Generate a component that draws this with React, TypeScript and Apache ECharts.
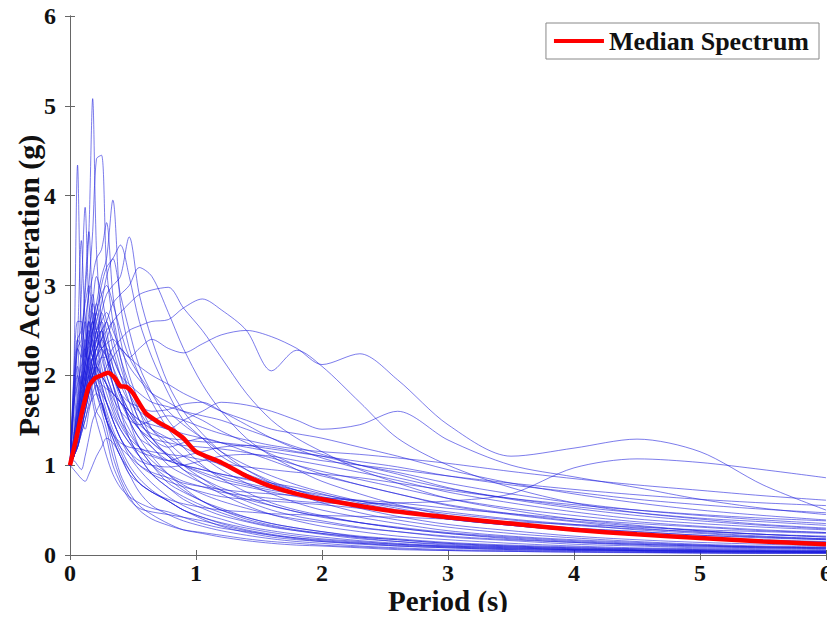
import React, { useEffect, useRef } from "react";
import * as echarts from "echarts";

const periods = [0, 0.03, 0.06, 0.09, 0.12, 0.15, 0.18, 0.21, 0.25, 0.29, 0.34, 0.4, 0.47, 0.55, 0.65, 0.78, 0.9, 1.05, 1.2, 1.4, 1.6, 1.8, 2.0, 2.3, 2.6, 3.0, 3.5, 4.0, 4.5, 5.0, 5.5, 6.0];

const highPeaks = [
  [1.0,1.3,1.8,2.3,2.9,3.6,5.08,3.4,2.6,2.3,2.0,1.8,1.5,1.3,1.1,0.9,0.75,0.6,0.5,0.4,0.33,0.28,0.24,0.19,0.15,0.12,0.09,0.07,0.06,0.05,0.04,0.035],
  [1.0,2.0,4.34,2.5,2.2,2.6,2.3,1.9,1.7,1.5,1.3,1.1,0.95,0.8,0.7,0.6,0.5,0.42,0.36,0.3,0.25,0.21,0.18,0.15,0.12,0.1,0.08,0.06,0.05,0.04,0.035,0.03],
  [1.0,1.2,1.5,1.9,2.4,3.0,3.6,4.41,4.45,3.2,2.6,2.2,1.9,1.6,1.3,1.1,0.95,0.8,0.68,0.55,0.45,0.38,0.32,0.26,0.21,0.17,0.13,0.1,0.08,0.07,0.06,0.05],
  [1.0,1.4,2.0,2.9,3.87,2.8,2.5,2.7,2.3,2.0,1.8,1.5,1.3,1.1,0.9,0.75,0.65,0.55,0.47,0.38,0.32,0.27,0.23,0.18,0.15,0.11,0.09,0.07,0.05,0.045,0.04,0.035],
  [1.0,1.1,1.4,1.7,2.0,2.3,2.6,2.8,3.1,3.3,3.95,2.8,2.3,2.0,1.7,1.4,1.2,1.0,0.85,0.7,0.58,0.5,0.44,0.36,0.3,0.24,0.18,0.14,0.11,0.09,0.08,0.07],
  [1.0,1.3,1.7,2.2,2.6,2.9,3.1,3.3,3.4,3.7,2.9,2.4,2.0,1.7,1.4,1.2,1.0,0.85,0.72,0.6,0.5,0.43,0.38,0.31,0.26,0.2,0.16,0.12,0.1,0.08,0.07,0.06],
  [1.0,1.2,1.5,1.8,2.1,2.4,2.6,2.5,2.7,2.9,3.0,3.1,3.54,2.9,2.4,1.9,1.6,1.35,1.15,0.95,0.8,0.68,0.58,0.47,0.39,0.31,0.24,0.19,0.15,0.12,0.1,0.09],
  [1.0,1.1,1.3,1.6,1.9,2.2,2.5,2.7,3.0,3.2,3.3,3.45,3.1,2.6,2.2,1.8,1.5,1.3,1.1,0.95,0.82,0.72,0.63,0.52,0.43,0.34,0.27,0.21,0.17,0.14,0.12,0.1],
  [1.0,1.1,1.3,1.5,1.8,2.0,2.2,2.4,2.5,2.6,2.8,2.9,3.0,3.2,3.1,2.7,2.3,1.9,1.6,1.3,1.1,0.95,0.82,0.68,0.56,0.44,0.35,0.28,0.22,0.18,0.15,0.13],
  [1.0,1.1,1.3,1.5,1.7,1.9,2.1,2.3,2.4,2.5,2.6,2.7,2.8,2.9,2.95,2.98,2.75,2.5,2.2,1.8,1.5,1.3,1.15,0.95,0.8,0.63,0.5,0.4,0.33,0.27,0.23,0.2],
  [1.0,1.1,1.2,1.4,1.6,1.8,2.0,2.1,2.2,2.2,2.3,2.4,2.5,2.55,2.6,2.62,2.75,2.85,2.73,2.5,2.05,2.28,2.1,1.7,1.3,1.0,0.75,0.58,0.47,0.4,0.34,0.3],
  [1.0,1.1,1.3,1.5,1.7,1.9,2.0,2.1,2.0,2.1,2.2,2.3,2.2,2.3,2.4,2.3,2.25,2.35,2.45,2.5,2.43,2.3,2.12,2.24,1.95,1.45,1.1,1.19,1.29,1.15,0.78,0.5],
  [1.0,1.8,2.3,2.4,3.0,3.6,2.7,2.3,2.5,2.2,1.9,1.6,1.4,1.2,1.0,0.85,0.72,0.6,0.52,0.42,0.35,0.3,0.26,0.2,0.17,0.13,0.1,0.08,0.06,0.05,0.045,0.04],
  [1.0,1.6,2.4,3.5,2.6,2.3,2.5,2.1,1.9,1.7,1.5,1.3,1.1,0.95,0.8,0.65,0.55,0.46,0.4,0.32,0.27,0.23,0.2,0.16,0.13,0.1,0.08,0.06,0.05,0.04,0.035,0.03],
];

const moderate = [
  [1.0,1.8,2.4,2.5,2.8,3.0,2.6,2.4,2.7,2.5,2.1,1.8,1.5,1.2,1.0,0.8,0.7,0.6,0.5,0.42,0.35,0.3,0.26,0.21,0.18,0.14,0.11,0.09,0.07,0.06,0.05,0.045],
  [1.0,1.2,1.5,1.9,2.2,2.5,2.8,3.1,2.9,2.6,2.4,2.1,1.8,1.5,1.3,1.1,0.95,0.85,0.75,0.65,0.55,0.48,0.43,0.36,0.3,0.24,0.19,0.15,0.12,0.1,0.08,0.07],
  [1.0,2.0,2.6,2.6,2.3,2.7,2.9,2.5,2.2,2.0,1.8,1.7,1.5,1.3,1.2,1.0,0.9,0.8,0.72,0.62,0.55,0.48,0.42,0.36,0.31,0.25,0.2,0.16,0.13,0.11,0.09,0.08],
  [1.0,1.1,1.3,1.6,1.9,2.2,2.5,2.7,2.9,3.0,2.8,2.5,2.2,2.0,1.8,1.6,1.45,1.3,1.15,1.0,0.88,0.78,0.7,0.6,0.52,0.42,0.35,0.28,0.23,0.19,0.16,0.14],
  [1.0,1.7,2.3,2.2,2.6,2.4,2.2,2.5,2.3,2.1,1.9,1.7,1.6,1.5,1.4,1.3,1.2,1.1,1.0,0.9,0.8,0.72,0.65,0.56,0.48,0.4,0.33,0.27,0.22,0.19,0.16,0.14],
  [1.0,1.2,1.6,2.0,2.3,2.1,1.9,2.2,2.4,2.6,2.3,2.0,1.7,1.4,1.2,1.05,1.0,0.95,0.9,0.85,0.8,0.75,0.68,0.58,0.5,0.4,0.33,0.27,0.23,0.2,0.17,0.15],
  [1.0,1.3,1.6,1.9,2.1,2.4,2.7,2.5,2.3,2.4,2.6,2.2,1.8,1.5,1.3,1.2,1.25,1.3,1.25,1.15,1.05,0.95,0.88,0.78,0.68,0.55,0.45,0.37,0.3,0.25,0.21,0.18],
  [1.0,1.15,1.4,1.7,2.0,2.2,2.3,2.5,2.6,2.4,2.2,2.0,1.9,1.8,1.7,1.65,1.6,1.55,1.5,1.4,1.3,1.2,1.12,1.0,0.9,0.75,0.62,0.52,0.44,0.38,0.33,0.29],
  [1.0,1.2,1.4,1.7,1.9,2.1,2.2,2.3,2.4,2.3,2.1,1.9,1.7,1.6,1.5,1.4,1.5,1.6,1.7,1.67,1.6,1.5,1.4,1.45,1.6,1.28,1.0,0.87,0.75,0.62,0.52,0.45],
  [1.0,1.1,1.3,1.5,1.7,1.9,2.1,2.2,2.3,2.35,2.4,2.3,2.2,2.1,2.0,1.9,1.8,1.7,1.6,1.5,1.4,1.35,1.3,1.2,1.1,0.95,0.8,0.68,0.58,0.5,0.44,0.39],
  [1.0,1.9,2.4,2.3,2.0,1.8,2.1,2.3,2.0,1.8,1.6,1.4,1.25,1.15,1.1,1.05,1.1,1.15,1.2,1.22,1.2,1.15,1.1,1.0,0.92,0.8,0.68,0.58,0.5,0.44,0.39,0.35],
  [1.0,1.2,1.5,1.8,2.2,2.6,2.8,2.6,2.4,2.2,2.0,1.8,1.6,1.4,1.25,1.1,1.0,0.92,0.85,0.78,0.72,0.68,0.64,0.6,0.55,0.48,0.4,0.34,0.28,0.24,0.2,0.17],
  [1.0,1.3,1.7,2.0,1.8,2.1,2.4,2.2,2.0,1.9,1.7,1.5,1.35,1.2,1.05,0.9,0.78,0.68,0.6,0.52,0.45,0.4,0.36,0.3,0.26,0.21,0.17,0.14,0.12,0.1,0.09,0.08],
  [1.0,1.1,1.25,1.45,1.7,1.95,2.2,2.4,2.6,2.7,2.5,2.3,2.1,1.95,1.8,1.7,1.6,1.5,1.38,1.25,1.12,1.0,0.9,0.78,0.68,0.56,0.46,0.38,0.32,0.27,0.23,0.2],
  [1.0,1.2,1.5,1.9,2.3,2.6,2.4,2.1,1.9,1.7,1.5,1.3,1.15,1.0,0.9,0.82,0.76,0.7,0.65,0.62,0.6,0.58,0.56,0.52,0.48,0.42,0.36,0.3,0.26,0.22,0.19,0.17],
  [1.0,1.3,1.6,2.0,2.4,2.2,2.5,2.8,2.5,2.2,1.9,1.6,1.3,1.1,0.9,0.75,0.62,0.52,0.44,0.37,0.31,0.27,0.24,0.2,0.17,0.13,0.1,0.08,0.07,0.06,0.05,0.045],
  [1.0,1.1,1.3,1.6,1.9,2.2,2.4,2.6,2.8,3.1,3.3,2.9,2.5,2.1,1.8,1.5,1.3,1.1,0.95,0.8,0.68,0.58,0.5,0.42,0.35,0.27,0.21,0.17,0.14,0.11,0.09,0.08],
];

const lowRecords = [
  [1.0,0.95,0.9,0.85,0.82,0.9,1.0,1.1,1.2,1.3,1.25,1.1,0.9,0.7,0.55,0.45,0.38,0.32,0.27,0.22,0.18,0.15,0.13,0.1,0.08,0.06,0.05,0.04,0.03,0.025,0.02,0.02],
  [1.0,1.05,1.0,0.95,1.1,1.3,1.5,1.6,1.7,1.5,1.2,0.9,0.7,0.55,0.45,0.35,0.28,0.24,0.2,0.16,0.13,0.11,0.1,0.08,0.06,0.05,0.04,0.03,0.025,0.02,0.02,0.02],
  [1.0,1.1,1.2,1.4,1.6,1.8,2.0,1.8,1.6,1.4,1.1,0.85,0.65,0.5,0.4,0.33,0.28,0.25,0.22,0.18,0.15,0.13,0.11,0.09,0.07,0.05,0.04,0.035,0.03,0.025,0.02,0.02],
  [1.0,1.2,1.5,1.7,1.9,2.0,1.8,1.6,1.5,1.3,1.0,0.8,0.62,0.52,0.48,0.45,0.42,0.38,0.33,0.27,0.22,0.18,0.15,0.12,0.1,0.08,0.06,0.05,0.04,0.035,0.03,0.03],
  [1.0,1.1,1.3,1.5,1.4,1.6,1.8,1.9,1.7,1.5,1.3,1.1,0.9,0.8,0.7,0.6,0.5,0.42,0.35,0.28,0.23,0.19,0.16,0.13,0.1,0.08,0.06,0.05,0.04,0.03,0.03,0.025],
  [1.0,1.7,1.9,2.1,2.3,2.0,1.7,1.5,1.3,1.1,0.9,0.75,0.65,0.58,0.52,0.48,0.42,0.35,0.3,0.26,0.22,0.19,0.17,0.14,0.12,0.09,0.07,0.06,0.05,0.04,0.035,0.03],
  [1.0,1.2,1.4,1.6,1.8,2.0,2.2,2.0,1.8,1.6,1.4,1.2,1.0,0.85,0.72,0.6,0.5,0.4,0.32,0.25,0.2,0.17,0.15,0.13,0.11,0.09,0.07,0.06,0.05,0.045,0.04,0.035],
];

const longPeriod = [
  [1.0,1.1,1.3,1.6,1.9,2.1,2.0,1.9,1.8,1.7,1.55,1.4,1.25,1.1,1.0,0.9,0.82,0.76,0.7,0.66,0.63,0.6,0.58,0.57,0.58,0.6,0.68,0.97,1.07,1.03,0.95,0.86],
  [1.0,1.2,1.5,1.8,2.1,2.3,2.2,2.0,1.9,1.85,1.8,1.7,1.6,1.5,1.45,1.4,1.35,1.3,1.25,1.2,1.15,1.1,1.05,1.0,0.95,0.88,0.8,0.73,0.67,0.62,0.58,0.55],
  [1.0,1.1,1.2,1.4,1.6,1.8,2.0,2.1,2.0,1.9,1.75,1.6,1.5,1.45,1.5,1.55,1.5,1.42,1.35,1.28,1.22,1.18,1.15,1.12,1.08,1.02,0.93,0.85,0.78,0.72,0.66,0.61],
  [1.0,1.15,1.35,1.6,1.85,2.1,2.3,2.4,2.3,2.2,2.0,1.8,1.6,1.45,1.35,1.3,1.28,1.26,1.25,1.22,1.18,1.14,1.1,1.04,0.98,0.88,0.78,0.7,0.62,0.56,0.51,0.47],
  [1.0,1.2,1.4,1.7,2.0,2.2,2.1,1.9,1.7,1.5,1.35,1.25,1.2,1.18,1.15,1.12,1.1,1.06,1.02,0.98,0.95,0.92,0.9,0.86,0.8,0.72,0.63,0.56,0.5,0.45,0.41,0.38],
  [1.0,1.1,1.3,1.5,1.7,1.9,2.1,2.0,1.85,1.7,1.5,1.3,1.15,1.05,1.0,0.98,1.0,1.05,1.1,1.12,1.1,1.05,1.0,0.92,0.83,0.7,0.58,0.48,0.4,0.35,0.31,0.28],
  [1.0,1.6,2.0,1.85,2.1,2.4,2.6,2.4,2.1,1.9,1.65,1.45,1.3,1.2,1.12,1.05,1.0,0.95,0.9,0.84,0.78,0.72,0.67,0.6,0.54,0.46,0.39,0.33,0.29,0.26,0.23,0.21],
  [1.0,1.1,1.25,1.4,1.6,1.8,2.0,2.2,2.3,2.2,2.0,1.8,1.7,1.65,1.6,1.62,1.68,1.7,1.6,1.45,1.3,1.18,1.08,0.96,0.86,0.74,0.63,0.54,0.47,0.41,0.37,0.33],
  [1.0,1.2,1.45,1.75,2.0,2.2,2.0,1.8,1.65,1.5,1.35,1.2,1.1,1.0,0.92,0.86,0.8,0.76,0.73,0.7,0.68,0.66,0.64,0.61,0.58,0.52,0.46,0.4,0.35,0.31,0.27,0.25],
  [1.0,1.1,1.2,1.35,1.5,1.7,1.9,2.05,2.2,2.3,2.2,2.0,1.8,1.6,1.4,1.25,1.1,0.98,0.88,0.8,0.74,0.68,0.62,0.55,0.48,0.4,0.33,0.27,0.22,0.19,0.16,0.14],
  [1.0,1.7,2.1,1.9,2.2,2.5,2.3,2.1,2.0,1.9,1.8,1.7,1.55,1.4,1.25,1.12,1.0,0.9,0.82,0.76,0.7,0.65,0.6,0.54,0.48,0.41,0.35,0.3,0.26,0.22,0.2,0.18],
  [1.0,1.1,1.2,1.35,1.5,1.65,1.75,1.8,1.7,1.55,1.35,1.15,0.95,0.8,0.7,0.62,0.57,0.53,0.5,0.48,0.46,0.45,0.44,0.43,0.42,0.4,0.37,0.34,0.31,0.28,0.26,0.24],
  [1.0,1.2,1.4,1.6,1.8,2.0,2.2,2.3,2.5,2.3,2.0,1.75,1.55,1.4,1.3,1.25,1.22,1.2,1.18,1.14,1.08,1.0,0.93,0.84,0.75,0.63,0.52,0.44,0.37,0.32,0.28,0.25],
];

const medianPeriods = [0, 0.05, 0.1, 0.15, 0.2, 0.25, 0.3, 0.35, 0.4, 0.45, 0.5, 0.6, 0.7, 0.8, 0.9, 1.0, 1.2, 1.4, 1.6, 1.8, 2.0, 2.5, 3.0, 3.5, 4.0, 4.5, 5.0, 5.5, 6.0];
const medianValues = [1.0, 1.3, 1.62, 1.88, 1.97, 2.0, 2.03, 1.98, 1.88, 1.87, 1.8, 1.58, 1.48, 1.4, 1.3, 1.15, 1.03, 0.88, 0.76, 0.68, 0.62, 0.5, 0.42, 0.35, 0.28, 0.23, 0.19, 0.15, 0.12];

const FONT = "'Liberation Serif', 'Times New Roman', serif";

export default function App() {
  const ref = useRef<HTMLDivElement>(null);
  useEffect(() => {
    if (!ref.current) return;
    const chart = echarts.init(ref.current, undefined, { renderer: "svg" });
    const records = [...highPeaks, ...moderate, ...lowRecords, ...longPeriod];
    const blue = records.map((rec, i) => ({
      type: "line",
      name: "record" + i,
      data: rec.map((v, j) => [periods[j], v]),
      showSymbol: false,
      smooth: 0.3,
      lineStyle: { color: "rgba(30,30,220,0.58)", width: 1 },
      silent: true,
      z: 2,
    }));
    const axisCommon = {
      type: "value",
      min: 0,
      max: 6,
      interval: 1,
      axisLine: { show: true, lineStyle: { color: "#666", width: 1 } },
      axisTick: { show: true, inside: true, length: 5, lineStyle: { color: "#666" } },
      splitLine: { show: false },
    };
    chart.setOption({
      animation: false,
      backgroundColor: "#fff",
      grid: { left: 70, right: 9, top: 16, bottom: 65, containLabel: false, outerBoundsMode: "none" },
      legend: {
        data: [{ name: "Median Spectrum", icon: "rect" }],
        right: 16,
        top: 23,
        itemWidth: 50,
        itemHeight: 4,
        itemGap: 8,
        padding: [5, 10, 5, 8],
        backgroundColor: "#fff",
        borderColor: "#888",
        borderWidth: 1,
        borderRadius: 0,
        textStyle: { fontFamily: FONT, fontWeight: "bold", fontSize: 26, color: "#111" },
      },
      xAxis: [
        {
          ...axisCommon,
          position: "bottom",
          name: "Period (s)",
          nameLocation: "middle",
          nameGap: 31,
          nameMoveOverlap: false,
          nameTextStyle: { fontFamily: FONT, fontWeight: "bold", fontSize: 29, color: "#111" },
          axisLabel: { fontFamily: FONT, fontWeight: "bold", fontSize: 24, color: "#111", margin: 6 },
        },
        {
          ...axisCommon,
          position: "top",
          axisLabel: { show: false },
        },
      ],
      yAxis: [
        {
          ...axisCommon,
          position: "left",
          name: "Pseudo Acceleration (g)",
          nameLocation: "middle",
          nameGap: 27,
          nameMoveOverlap: false,
          nameTextStyle: { fontFamily: FONT, fontWeight: "bold", fontSize: 30, color: "#111" },
          axisLabel: { fontFamily: FONT, fontWeight: "bold", fontSize: 24, color: "#111", margin: 14 },
        },
        {
          ...axisCommon,
          position: "right",
          axisLabel: { show: false },
        },
      ],
      series: [
        ...blue,
        {
          type: "line",
          name: "Median Spectrum",
          data: medianPeriods.map((p, i) => [p, medianValues[i]]),
          showSymbol: false,
          smooth: 0.2,
          lineStyle: { color: "#ff0000", width: 4.5 },
          itemStyle: { color: "#ff0000" },
          z: 5,
        },
      ],
    });
    return () => chart.dispose();
  }, []);
  return <div ref={ref} style={{ width: 835, height: 620, margin: -8 }} />;
}
